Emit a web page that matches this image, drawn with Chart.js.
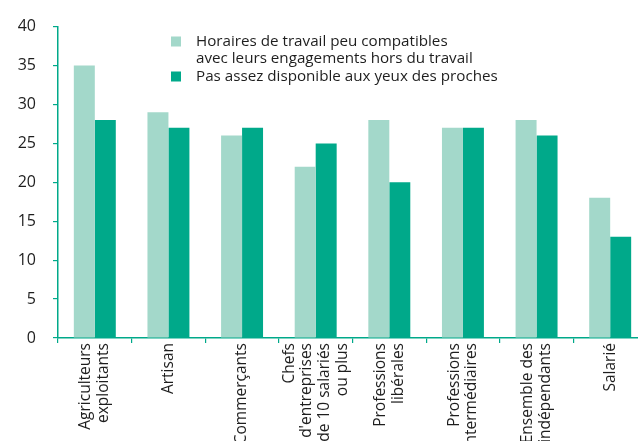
<!DOCTYPE html>
<html>
<head>
<meta charset="utf-8">
<script src="https://cdn.jsdelivr.net/npm/chart.js@4.4.1/dist/chart.umd.min.js"></script>
<style>
  html, body { margin: 0; padding: 0; background: #fff; width: 638px; height: 441px; overflow: hidden; }
  #cadre { position: relative; width: 650px; height: 480px; }
</style>
</head>
<body>
<div id="cadre"><canvas id="graphique" width="650" height="480"></canvas></div>
<script>
// Données
const categories = [
  ["Agriculteurs", "exploitants"],
  ["Artisan"],
  ["Commerçants"],
  ["Chefs", "d'entreprises", "de 10 salariés", "ou plus"],
  ["Professions", "libérales"],
  ["Professions", "intermédiaires"],
  ["Ensemble des", "indépendants"],
  ["Salarié"]
];
const nomsSeries = [
  "Horaires de travail peu compatibles\navec leurs engagements hors du travail",
  "Pas assez disponible aux yeux des proches"
];
const horaires = [35, 29, 26, 22, 28, 27, 28, 18];
const disponible = [28, 27, 27, 25, 20, 27, 26, 13];
const ticksY = [0, 5, 10, 15, 20, 25, 30, 35, 40];

const VERT = "#00a98a";
const VERT_CLAIR = "#a3d8ca";
const TEXTE = "#1e1e1e";
const POLICE = "'Open Sans', sans-serif";

// ===============================
// Étiquettes de l'axe X (centrées, verticales)
// ===============================
const etiquettesX = {
  id: "etiquettesX",
  afterDraw(chart) {
    const ctx = chart.ctx;
    const sx = chart.scales.x;
    const lh = 17.7;
    ctx.save();
    ctx.fillStyle = TEXTE;
    ctx.font = "15.5px " + POLICE;
    ctx.textAlign = "right";
    ctx.textBaseline = "middle";
    categories.forEach((lignes, i) => {
      const x = sx.getPixelForValue(i);
      lignes.forEach((txt, j) => {
        const cx = x + (j - (lignes.length - 1) / 2) * lh;
        ctx.save();
        ctx.translate(cx, sx.top + 5);
        ctx.rotate(-Math.PI / 2);
        ctx.fillText(txt, 0, 0);
        ctx.restore();
      });
    });
    ctx.restore();
  }
};

// ===============================
// Légende dans la zone du graphique
// ===============================
const legende = {
  id: "legende",
  afterDraw(chart) {
    const ctx = chart.ctx;
    const lh = 17.5;
    let y = 41.5;
    ctx.save();
    ctx.font = "15.2px " + POLICE;
    ctx.textBaseline = "middle";
    ctx.textAlign = "left";
    chart.data.datasets.forEach(ds => {
      ctx.fillStyle = ds.backgroundColor;
      ctx.fillRect(171, y - 5, 10, 10);
      ctx.fillStyle = TEXTE;
      ds.label.split("\n").forEach(l => {
        ctx.fillText(l, 196, y);
        y += lh;
      });
    });
    ctx.restore();
  }
};

new Chart(document.getElementById("graphique"), {
  type: "bar",
  data: {
    labels: categories,
    datasets: [
      { label: nomsSeries[0], data: horaires, backgroundColor: VERT_CLAIR },
      { label: nomsSeries[1], data: disponible, backgroundColor: VERT }
    ]
  },
  options: {
    responsive: false,
    animation: false,
    layout: { padding: { top: 25, right: 3, left: 0, bottom: 0 } },
    datasets: { bar: { categoryPercentage: 0.57, barPercentage: 1, borderWidth: 0 } },
    plugins: { legend: { display: false }, tooltip: { enabled: false } },
    scales: {
      x: {
        afterFit: s => { s.height = 142; },
        ticks: { display: false, autoSkip: false },
        grid: { offset: true, drawOnChartArea: false, color: VERT, tickLength: 5, lineWidth: 1.2 },
        border: { color: VERT, width: 1.5 }
      },
      y: {
        min: 0,
        max: 40,
        afterFit: s => { s.width = 58; },
        afterBuildTicks: s => { s.ticks = ticksY.map(v => ({ value: v })); },
        ticks: { color: TEXTE, padding: 17, font: { family: POLICE, size: 16 } },
        grid: { drawOnChartArea: false, color: VERT, tickLength: 5, lineWidth: 1.2 },
        border: { color: VERT, width: 1.5 }
      }
    }
  },
  plugins: [etiquettesX, legende]
});
</script>
</body>
</html>
